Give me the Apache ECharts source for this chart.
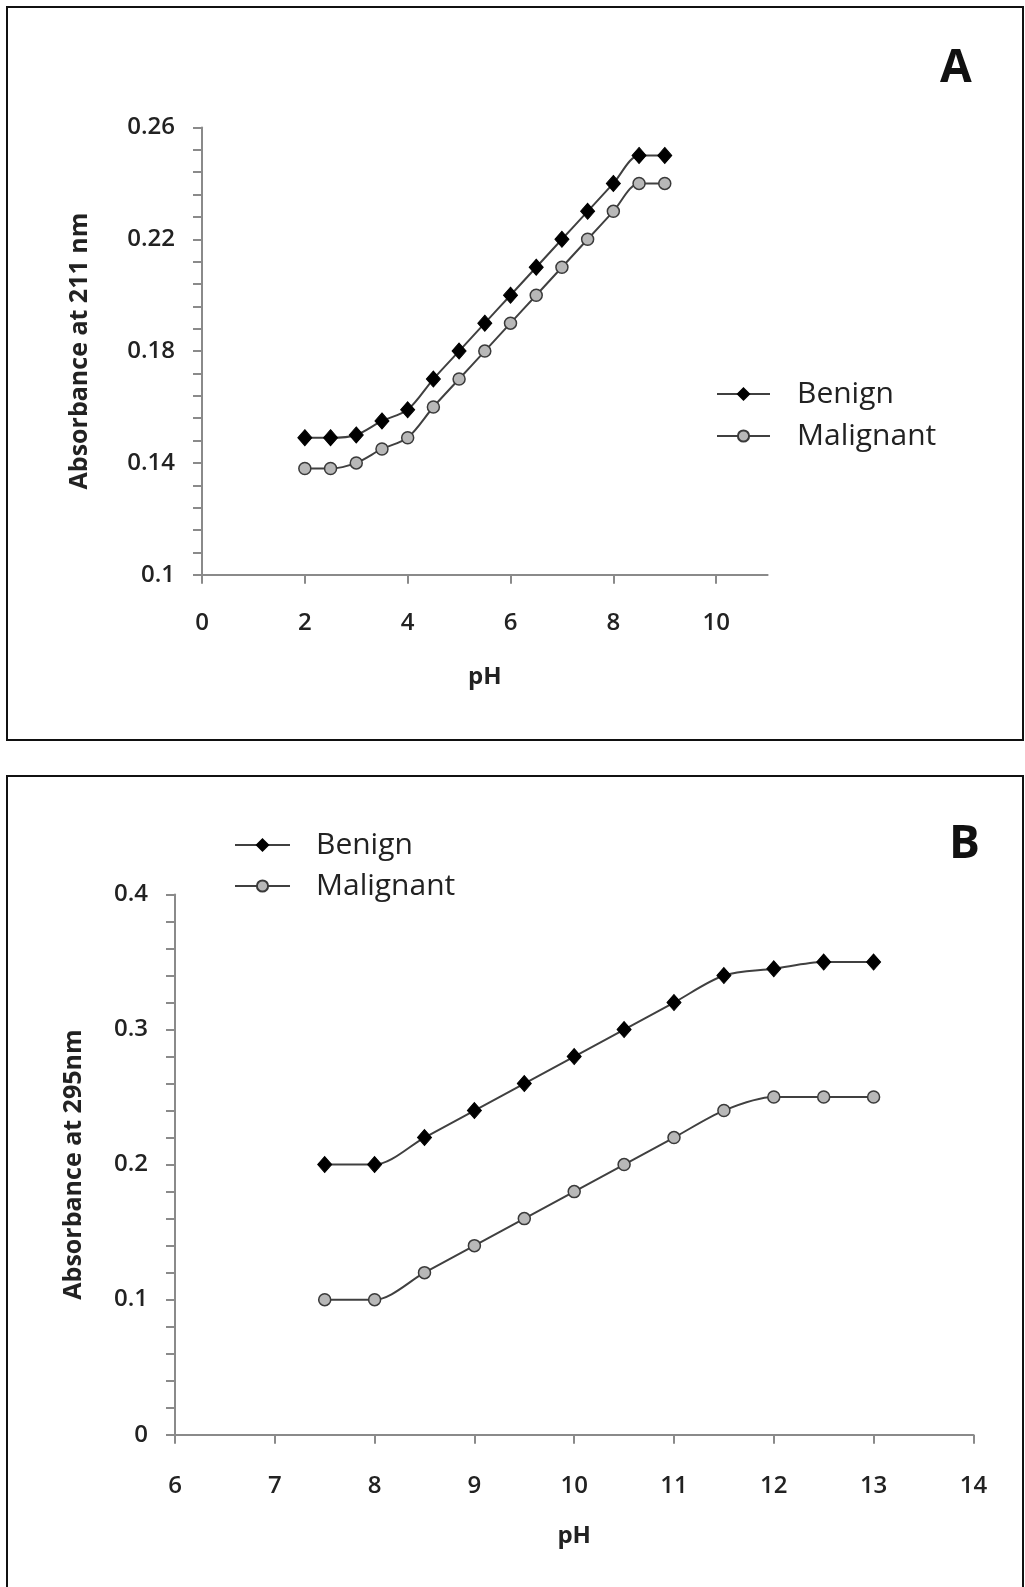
<!DOCTYPE html>
<html>
<head>
<meta charset="utf-8">
<title>Absorbance vs pH</title>
<script src="https://cdn.jsdelivr.net/npm/echarts@6/dist/echarts.min.js"></script>
<style>
  html, body { margin: 0; padding: 0; background: #fff; }
  #chart { width: 1025px; height: 1587px; }
</style>
</head>
<body>
<div id="chart"></div>
<script>
// panel A: absorbance at 211 nm
const phA = [2, 2.5, 3, 3.5, 4, 4.5, 5, 5.5, 6, 6.5, 7, 7.5, 8, 8.5, 9];
const benignA = [0.149, 0.149, 0.150, 0.155, 0.159, 0.170, 0.180, 0.190, 0.200, 0.210, 0.220, 0.230, 0.240, 0.250, 0.250];
const malignantA = [0.138, 0.138, 0.140, 0.145, 0.149, 0.160, 0.170, 0.180, 0.190, 0.200, 0.210, 0.220, 0.230, 0.240, 0.240];
const xTicksA = [0, 2, 4, 6, 8, 10];

// panel B: absorbance at 295 nm
const phB = [7.5, 8, 8.5, 9, 9.5, 10, 10.5, 11, 11.5, 12, 12.5, 13];
const benignB = [0.20, 0.20, 0.22, 0.24, 0.26, 0.28, 0.30, 0.32, 0.34, 0.345, 0.35, 0.35];
const malignantB = [0.10, 0.10, 0.12, 0.14, 0.16, 0.18, 0.20, 0.22, 0.24, 0.25, 0.25, 0.25];

const seriesNames = ['Benign', 'Malignant'];

let mychart = echarts.init(document.getElementById('chart'));

const font = '"Open Sans", "Liberation Sans", sans-serif';
const axisGray = '#8a8a8a';
const lineGray = '#404040';
const labelStyle = { color: '#222', fontSize: 24, fontWeight: 600, fontFamily: font };

// shared axis look
function xAxisOf(gridIndex, min, max, interval, extra) {
    return Object.assign({
        type: 'value', gridIndex: gridIndex, min: min, max: max, interval: interval,
        name: 'pH', nameLocation: 'middle',
        nameTextStyle: { color: '#222', fontSize: 24, fontWeight: 'bold', fontFamily: font },
        axisLine: { show: true, onZero: false, lineStyle: { color: axisGray, width: 2 } },
        axisTick: { show: true, length: 9, lineStyle: { color: axisGray, width: 2 } },
        axisLabel: Object.assign({ margin: 36 }, labelStyle),
        splitLine: { show: false }
    }, extra);
}
function yAxisOf(gridIndex, min, max, interval, name, nameGap) {
    return {
        type: 'value', gridIndex: gridIndex, min: min, max: max, interval: interval,
        name: name, nameLocation: 'middle', nameGap: nameGap,
        nameTextStyle: { color: '#222', fontSize: 25, fontWeight: 'bold', fontFamily: font },
        axisLine: { show: true, lineStyle: { color: axisGray, width: 2 } },
        axisTick: { show: true, length: 9, lineStyle: { color: axisGray, width: 2 } },
        minorTick: { show: true, splitNumber: 5, length: 9, lineStyle: { color: axisGray, width: 2 } },
        axisLabel: Object.assign({ margin: 27 }, labelStyle),
        splitLine: { show: false }
    };
}
function lineSeries(name, axisIdx, xs, ys) {
    const benign = name === 'Benign';
    return {
        name: name, type: 'line', xAxisIndex: axisIdx, yAxisIndex: axisIdx,
        data: xs.map((x, i) => [x, ys[i]]),
        smooth: 0.3,
        symbol: benign ? 'diamond' : 'circle',
        symbolSize: benign ? [14, 16] : 12,
        lineStyle: { color: lineGray, width: 2 },
        itemStyle: benign
            ? { color: '#000', borderColor: '#000', borderWidth: 1 }
            : { color: '#b8b8b8', borderColor: '#3a3a3a', borderWidth: 1.5 },
        emphasis: { disabled: true },
        animation: false
    };
}
const legendTextA = { color: '#222', fontSize: 30, fontFamily: font, lineHeight: 30, padding: [0, 0, 0, 22] };
const legendTextB = { color: '#222', fontSize: 30, fontFamily: font, lineHeight: 30, padding: [0, 0, 0, 21] };

let option = {
    backgroundColor: '#fff',
    animation: false,
    grid: [
        { left: 202, top: 127.5, width: 565.6, height: 447.2 },
        { left: 175, top: 894.5, width: 798.4, height: 540.2 }
    ],
    legend: [
        { data: seriesNames, orient: 'vertical', left: 711, top: 374, itemWidth: 53, itemHeight: 14, itemGap: 12, textStyle: legendTextA, selectedMode: false },
        { data: seriesNames, orient: 'vertical', left: 229, top: 825, itemWidth: 55, itemHeight: 14, itemGap: 11, textStyle: legendTextB, selectedMode: false }
    ],
    xAxis: [
        xAxisOf(0, 0, 11, 2, {
            nameGap: 90,
            axisTick: { show: true, length: 9, lineStyle: { color: axisGray, width: 2 }, customValues: xTicksA },
            axisLabel: Object.assign({ margin: 36, customValues: xTicksA }, labelStyle)
        }),
        xAxisOf(1, 6, 14, 1, { nameGap: 89, axisLabel: Object.assign({ margin: 39 }, labelStyle) })
    ],
    yAxis: [
        yAxisOf(0, 0.1, 0.26, 0.04, 'Absorbance at 211 nm', 110),
        yAxisOf(1, 0, 0.4, 0.1, 'Absorbance at 295nm', 89)
    ],
    series: [
        lineSeries('Benign', 0, phA, benignA),
        lineSeries('Malignant', 0, phA, malignantA),
        lineSeries('Benign', 1, phB, benignB),
        lineSeries('Malignant', 1, phB, malignantB)
    ],
    graphic: [
        { type: 'rect', shape: { x: 7, y: 7, width: 1016, height: 733 }, style: { fill: 'none', stroke: '#111', lineWidth: 2 }, silent: true },
        { type: 'rect', shape: { x: 7, y: 776, width: 1016, height: 820 }, style: { fill: 'none', stroke: '#111', lineWidth: 2 }, silent: true },
        { type: 'text', left: 940, top: 46, style: { text: 'A', fill: '#111', font: 'bold 46px "Open Sans", sans-serif' }, silent: true },
        { type: 'text', left: 949, top: 822, style: { text: 'B', fill: '#111', font: 'bold 46px "Open Sans", sans-serif' }, silent: true }
    ]
};
mychart.setOption(option);
window.addEventListener('resize', () => {
    mychart.resize();
});
</script>
</body>
</html>
